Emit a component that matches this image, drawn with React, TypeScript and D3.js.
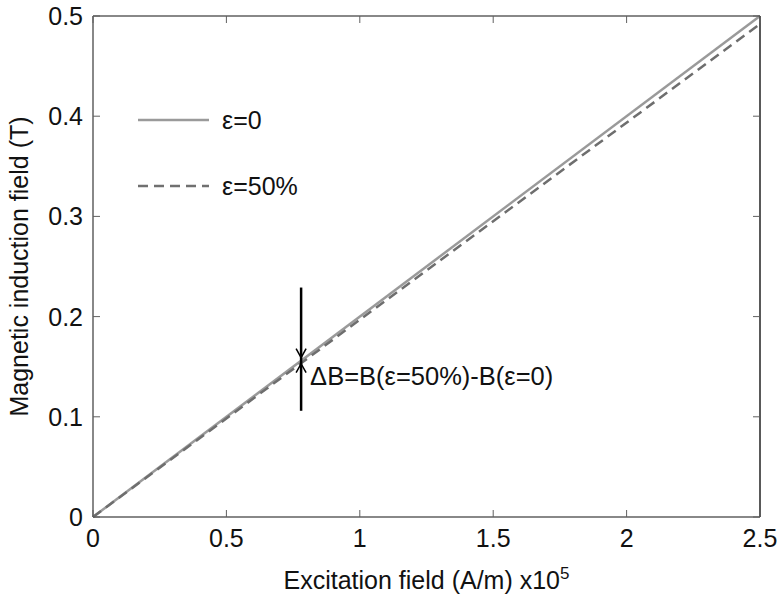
import React from "react";
import * as d3 from "d3";

const W = 778;
const H = 597;
const MARGIN = { top: 16, right: 18, bottom: 80, left: 93 };

// excitation field (x1e5 A/m) and induction (T)
const excitation = [0, 2.5];
const bNoStrain = [0, 0.5];
const bStrain50 = [0, 0.492];

const xTicks = [0, 0.5, 1, 1.5, 2, 2.5];
const yTicks = [0, 0.1, 0.2, 0.3, 0.4, 0.5];

// annotation marker: field position, vertical extent, where arrows meet curves
const markerH = 0.78;
const markerRange = [0.106, 0.229];
const markerTips = [0.159, 0.153];

const legendItems = [
  { label: "ε=0", dash: "none", color: "#9a9a9a" },
  { label: "ε=50%", dash: "10,6", color: "#707070" },
];

const FONT = "'Liberation Sans', Arial, sans-serif";

const App = () => {
  const bw = W - MARGIN.left - MARGIN.right;
  const bh = H - MARGIN.top - MARGIN.bottom;

  const x = d3.scaleLinear().domain([0, 2.5]).range([0, bw]);
  const y = d3.scaleLinear().domain([0, 0.5]).range([bh, 0]);

  const line = d3
    .line<number>()
    .x((_, i) => x(excitation[i]))
    .y((d) => y(d));

  const tickLen = 7;
  const axisColor = "#606060";

  const mx = x(markerH);
  const tipDown = y(markerTips[0]);
  const tipUp = y(markerTips[1]);

  return (
    <svg
      width={W}
      height={H}
      style={{ position: "absolute", left: 0, top: 0, background: "#fff" }}
      fontFamily={FONT}
    >
      <g transform={`translate(${MARGIN.left},${MARGIN.top})`}>
        {/* curves */}
        <path d={line(bNoStrain) || ""} fill="none" stroke="#9a9a9a" strokeWidth={2.5} />
        <path
          d={line(bStrain50) || ""}
          fill="none"
          stroke="#6e6e6e"
          strokeWidth={2.5}
          strokeDasharray="10,6"
        />

        {/* box */}
        <line x1={0} x2={bw} y1={0} y2={0} stroke={axisColor} strokeWidth={1.5} />
        <line x1={0} x2={bw} y1={bh} y2={bh} stroke={axisColor} strokeWidth={1.5} />
        <line x1={0} x2={0} y1={0} y2={bh} stroke={axisColor} strokeWidth={1.5} />
        <line x1={bw} x2={bw} y1={0} y2={bh} stroke="#222" strokeWidth={1.5} />

        {/* x ticks */}
        {xTicks.map((t) => (
          <g key={`x${t}`}>
            <line x1={x(t)} x2={x(t)} y1={bh} y2={bh - tickLen} stroke={axisColor} />
            <line x1={x(t)} x2={x(t)} y1={0} y2={tickLen} stroke={axisColor} />
            <text x={x(t)} y={bh + 30} textAnchor="middle" fontSize={25} fill="#111">
              {t}
            </text>
          </g>
        ))}

        {/* y ticks */}
        {yTicks.map((t) => (
          <g key={`y${t}`}>
            <line x1={0} x2={tickLen} y1={y(t)} y2={y(t)} stroke={axisColor} />
            <line x1={bw} x2={bw - tickLen} y1={y(t)} y2={y(t)} stroke={axisColor} />
            <text
              x={-10}
              y={y(t)}
              dy="0.36em"
              textAnchor="end"
              fontSize={25}
              fill="#111"
            >
              {t}
            </text>
          </g>
        ))}

        {/* axis titles */}
        <text x={bw / 2} y={bh + 72} textAnchor="middle" fontSize={25} fill="#111">
          Excitation field (A/m) x10
          <tspan dy={-10} fontSize={17}>5</tspan>
        </text>
        <text
          transform={`translate(${-MARGIN.left + 28},${bh / 2}) rotate(-90)`}
          textAnchor="middle"
          fontSize={25}
          fill="#111"
        >
          Magnetic induction field (T)
        </text>

        {/* legend */}
        {legendItems.map((d, i) => {
          const ly = 104 + i * 66;
          return (
            <g key={d.label}>
              <line
                x1={45}
                x2={116}
                y1={ly}
                y2={ly}
                stroke={d.color}
                strokeWidth={2.5}
                strokeDasharray={d.dash}
              />
              <text x={129} y={ly} dy="0.36em" fontSize={25} fill="#111">
                {d.label}
              </text>
            </g>
          );
        })}

        {/* ΔB marker */}
        <line
          x1={mx}
          x2={mx}
          y1={y(markerRange[0])}
          y2={y(markerRange[1])}
          stroke="#000"
          strokeWidth={2.5}
        />
        <path
          d={`M${mx - 5},${tipDown - 9} L${mx},${tipDown} L${mx + 5},${tipDown - 9}`}
          fill="none"
          stroke="#000"
          strokeWidth={1.5}
        />
        <path
          d={`M${mx - 5},${tipUp + 9} L${mx},${tipUp} L${mx + 5},${tipUp + 9}`}
          fill="none"
          stroke="#000"
          strokeWidth={1.5}
        />
        <text x={mx + 9} y={y(0.132)} fontSize={25.5} fill="#111">
          ΔB=B(ε=50%)-B(ε=0)
        </text>
      </g>
    </svg>
  );
};

export default App;
